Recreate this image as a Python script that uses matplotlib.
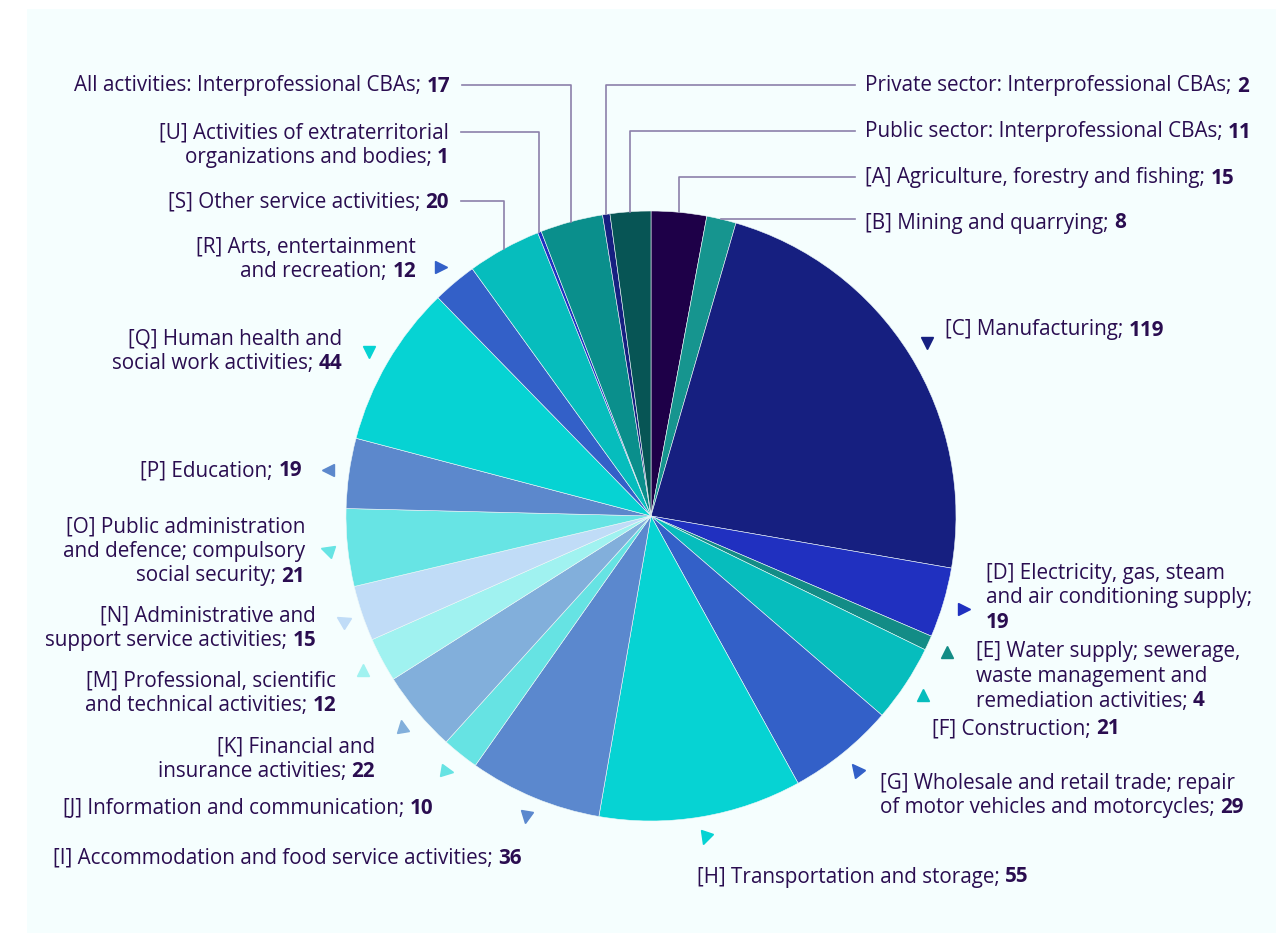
import matplotlib
matplotlib.use("Agg")
import matplotlib.pyplot as plt
from matplotlib.patches import Rectangle
from matplotlib.markers import MarkerStyle
from matplotlib.transforms import Affine2D
import numpy as np

plt.rcParams['font.family'] = ['Open Sans', 'Noto Sans', 'DejaVu Sans']

W, H = 1285, 933

# sectors, clockwise from 12 o'clock
names = ['A', 'B', 'C', 'D', 'E', 'F', 'G', 'H', 'I', 'J', 'K', 'M', 'N',
         'O', 'P', 'Q', 'R', 'S', 'U', 'ALL', 'PRIV', 'PUB']
values = [15, 8, 119, 19, 4, 21, 29, 55, 36, 10, 22, 12, 15,
          21, 19, 44, 12, 20, 1, 17, 2, 11]
label_lines = {
    'A': ['[A] Agriculture, forestry and fishing; '],
    'B': ['[B] Mining and quarrying; '],
    'C': ['[C] Manufacturing; '],
    'D': ['[D] Electricity, gas, steam', 'and air conditioning supply;', ''],
    'E': ['[E] Water supply; sewerage,', 'waste management and', 'remediation activities; '],
    'F': ['[F] Construction; '],
    'G': ['[G] Wholesale and retail trade; repair', 'of motor vehicles and motorcycles; '],
    'H': ['[H] Transportation and storage; '],
    'I': ['[I] Accommodation and food service activities; '],
    'J': ['[J] Information and communication; '],
    'K': ['[K] Financial and', 'insurance activities; '],
    'M': ['[M] Professional, scientific', 'and technical activities; '],
    'N': ['[N] Administrative and', 'support service activities; '],
    'O': ['[O] Public administration', 'and defence; compulsory', 'social security; '],
    'P': ['[P] Education; '],
    'Q': ['[Q] Human health and', 'social work activities; '],
    'R': ['[R] Arts, entertainment', 'and recreation; '],
    'S': ['[S] Other service activities; '],
    'U': ['[U] Activities of extraterritorial', 'organizations and bodies; '],
    'ALL': ['All activities: Interprofessional CBAs; '],
    'PRIV': ['Private sector: Interprofessional CBAs; '],
    'PUB': ['Public sector: Interprofessional CBAs; '],
}
colors = ['#1e0048', '#16958f', '#161f80', '#2030c0', '#138c86', '#06bdbd',
          '#3360c8', '#06d3d3', '#5b88ce', '#66e3e3', '#82afdb', '#a0f2f0',
          '#c0dcf7', '#67e4e4', '#5c88cc', '#06d3d3', '#3360c8', '#06bdbd',
          '#2030c0', '#0a8f8c', '#161f80', '#075555']

TEXT = '#2a0d50'
LINE = '#8c80aa'
FS = 14.9
LH = 24.5

# label layout: (anchor x, first line y, alignment) in pixels from top-left
layout = {
    'PRIV': (865, 86, 'left'), 'PUB': (865, 132, 'left'),
    'A': (865, 178, 'left'), 'B': (865, 223, 'left'),
    'C': (945, 330, 'left'), 'D': (986, 573, 'left'),
    'E': (976, 652, 'left'), 'F': (932, 729, 'left'),
    'G': (880, 783, 'left'), 'H': (697, 877, 'left'),
    'ALL': (450, 86, 'right'), 'U': (449, 133, 'right'),
    'S': (449, 202, 'right'), 'R': (416, 247, 'right'),
    'Q': (342, 339, 'right'), 'P': (302, 471, 'right'),
    'O': (305, 527, 'right'), 'N': (316, 616, 'right'),
    'M': (336, 681, 'right'), 'K': (375, 747, 'right'),
    'J': (433, 809, 'right'), 'I': (522, 858, 'right'),
}
# direction of each pointer triangle (degrees)
pointer_dir = {'C': -90, 'D': 0, 'E': 90, 'F': 90, 'G': 130, 'H': -105,
               'I': -100, 'J': -10, 'K': 100, 'M': 90, 'N': 150, 'O': 165,
               'P': 180, 'Q': -90, 'R': 0}
leader = {'A', 'B', 'S', 'U', 'ALL', 'PRIV', 'PUB'}

CX, CY, R = 651, 516, 305
RP = 326

fig = plt.figure(figsize=(W / 100, H / 100), dpi=100)
ax = fig.add_axes([0, 0, 1, 1])

ax.pie(values, colors=colors, startangle=90, counterclock=False,
       center=(CX, H - CY), radius=R,
       wedgeprops=dict(edgecolor='#eef8f8', linewidth=0.4))
ax.set_xlim(0, W)
ax.set_ylim(0, H)
ax.set_aspect('equal')
ax.axis('off')
ax.add_patch(Rectangle((27, 0), 1249, H - 9, facecolor='#f5fefe',
                       edgecolor='none', zorder=0))

total = sum(values)
cum = np.cumsum([0] + values[:-1])
renderer = fig.canvas.get_renderer()
inv = ax.transData.inverted()


def width_of(t):
    bb = t.get_window_extent(renderer=renderer)
    return inv.transform((bb.x1, 0))[0] - inv.transform((bb.x0, 0))[0]


for name, v, c0, col in zip(names, values, cum, colors):
    theta = np.radians((c0 + v / 2) / total * 360)
    lx, ly, align = layout[name]
    lines = label_lines[name]

    for i, line in enumerate(lines):
        y = H - (ly + i * LH)
        last = i == len(lines) - 1
        if align == 'left':
            t = ax.text(lx, y, line, ha='left', va='center', fontsize=FS, color=TEXT)
            if last:
                dx = width_of(t) if line else 0
                ax.text(lx + dx, y, str(v), ha='left', va='center',
                        fontsize=FS, color=TEXT, fontweight='bold')
        else:
            if last:
                b = ax.text(lx, y, str(v), ha='right', va='center',
                            fontsize=FS, color=TEXT, fontweight='bold')
                ax.text(lx - width_of(b), y, line, ha='right', va='center',
                        fontsize=FS, color=TEXT)
            else:
                ax.text(lx, y, line, ha='right', va='center', fontsize=FS, color=TEXT)

    if name in leader:
        ex = CX + R * np.sin(theta)
        ey = H - (CY - R * np.cos(theta))
        if name == 'B':
            ax.plot([ex, lx - 10], [ey, ey], color=LINE, lw=1.2, zorder=1)
        else:
            hy = H - ly + 1
            x_end = lx - 10 if align == 'left' else lx + 12
            ax.plot([ex, ex, x_end], [ey, hy, hy], color=LINE, lw=1.2, zorder=1)
    else:
        px = CX + RP * np.sin(theta)
        py = H - (CY - RP * np.cos(theta))
        m = MarkerStyle('^').transformed(Affine2D().rotate_deg(pointer_dir[name] - 90))
        ax.plot(px, py, marker=m, markersize=9, color=col, linestyle='none')

fig.savefig('out.png', dpi=100, facecolor='white')
